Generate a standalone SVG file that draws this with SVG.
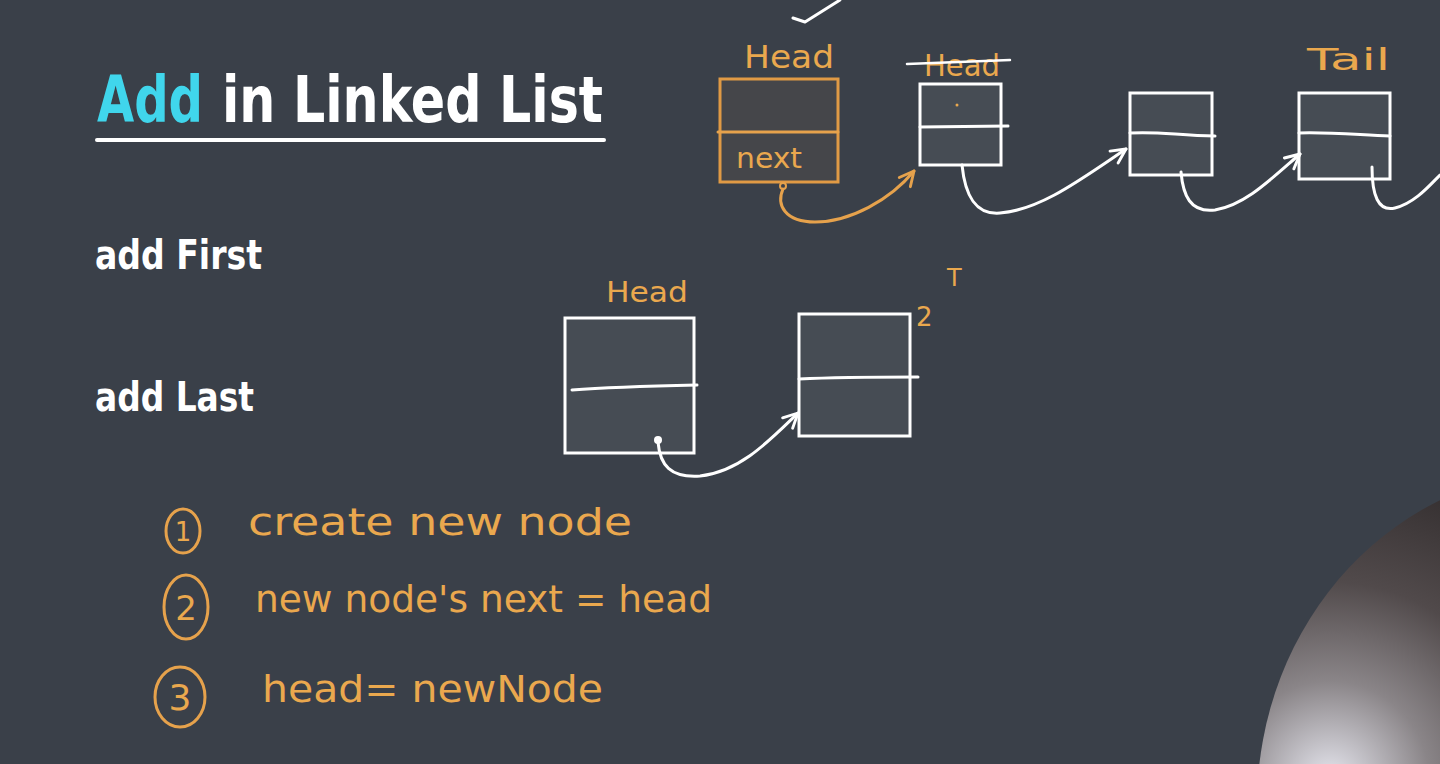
<svg xmlns="http://www.w3.org/2000/svg" width="1440" height="764" viewBox="0 0 1440 764">
<style>
.box{fill:#464c54;stroke:#ffffff;stroke-width:3}
.obox{fill:#45464a;stroke:#e09a45;stroke-width:3}
.wl{fill:none;stroke:#ffffff;stroke-width:3;stroke-linecap:round;stroke-linejoin:round}
.ol{fill:none;stroke:#e6a24c;stroke-width:3;stroke-linecap:round;stroke-linejoin:round}
.hand{font-family:"DejaVu Sans","Liberation Sans",sans-serif;fill:#eaa84e}
.head{font-family:"DejaVu Sans Condensed","DejaVu Sans",sans-serif;font-weight:bold;fill:#ffffff}
</style>
<defs>
<marker id="wa" viewBox="0 0 10 10" refX="9" refY="5" markerWidth="6" markerHeight="6" orient="auto" markerUnits="strokeWidth">
<path d="M1,1 L9,5 L1,9" fill="none" stroke="#ffffff" stroke-width="1.6" stroke-linecap="round" stroke-linejoin="round"/>
</marker>
<marker id="oa" viewBox="0 0 10 10" refX="9" refY="5" markerWidth="6" markerHeight="6" orient="auto" markerUnits="strokeWidth">
<path d="M1,1 L9,5 L1,9" fill="none" stroke="#e6a24c" stroke-width="1.6" stroke-linecap="round" stroke-linejoin="round"/>
</marker>
<radialGradient id="sph" cx="1330" cy="780" r="330" gradientUnits="userSpaceOnUse">
<stop offset="0" stop-color="#e6e6ee"/>
<stop offset="0.3" stop-color="#8a8588"/>
<stop offset="0.6" stop-color="#514a4b"/>
<stop offset="1" stop-color="#302b2c"/>
</radialGradient>
</defs>
<rect width="1440" height="764" fill="#3a4049"/>
<ellipse cx="1570" cy="805" rx="313" ry="335" fill="url(#sph)"/>

<g id="title">
<text x="97" y="122" class="head" font-size="64" fill="#40d6ec" style="fill:#40d6ec" textLength="106" lengthAdjust="spacingAndGlyphs">Add</text>
<text x="222" y="122" class="head" font-size="64" textLength="381" lengthAdjust="spacingAndGlyphs">in Linked List</text>
<line x1="97" y1="140" x2="604" y2="140" stroke="#ffffff" stroke-width="4" stroke-linecap="round"/>
</g>
<g id="add-first"><text x="95" y="269" class="head" font-size="40" textLength="167" lengthAdjust="spacingAndGlyphs">add First</text></g>
<g id="add-last"><text x="95" y="411" class="head" font-size="40" textLength="159" lengthAdjust="spacingAndGlyphs">add Last</text></g>

<g id="new-head-node">
<rect x="720" y="79" width="118" height="103" class="obox"/>
<line x1="718" y1="132" x2="838" y2="132" class="ol"/>
<text x="736" y="168" class="hand" font-size="28" textLength="66" lengthAdjust="spacingAndGlyphs">next</text>
<text x="744" y="68" class="hand" font-size="32" textLength="90" lengthAdjust="spacingAndGlyphs">Head</text>
<path d="M793,18 L805,22 L840,0" class="wl" stroke-width="2.5"/>
</g>
<g id="old-head-node">
<rect x="920" y="84" width="81" height="81" class="box"/>
<line x1="920" y1="127" x2="1008" y2="126" class="wl"/>
<circle cx="957" cy="105" r="1.5" fill="#eaa84e"/>
<text x="924" y="76" class="hand" font-size="30" textLength="76" lengthAdjust="spacingAndGlyphs">Head</text>
<line x1="907" y1="64" x2="1010" y2="60" stroke="#ffffff" stroke-width="2.5" stroke-linecap="round"/>
</g>
<g id="node-3">
<rect x="1130" y="93" width="82" height="82" class="box"/>
<path d="M1130,133 C1160,131 1180,136 1215,136" class="wl"/>
</g>
<g id="tail-node">
<rect x="1299" y="93" width="91" height="86" class="box"/>
<path d="M1299,133 C1330,132 1360,135 1390,136" class="wl"/>
<text x="1307" y="70" class="hand" font-size="30" textLength="83" lengthAdjust="spacingAndGlyphs">Tail</text>
</g>

<g id="head-node-b">
<rect x="565" y="318" width="129" height="135" class="box"/>
<path d="M572,390 C610,387 650,386 697,385" class="wl"/>
<text x="606" y="302" class="hand" font-size="28" textLength="82" lengthAdjust="spacingAndGlyphs">Head</text>
</g>
<g id="tail-node-b">
<rect x="799" y="314" width="111" height="122" class="box"/>
<path d="M799,379 C840,377 880,377 918,377" class="wl"/>
<text x="916" y="326" class="hand" font-size="26">2</text>
<text x="947" y="286" class="hand" font-size="24">T</text>
</g>

<g id="connectors">
<circle cx="783" cy="186" r="3" fill="none" stroke="#e6a24c" stroke-width="2"/>
<path d="M783,189 C776,205 785,222 815,222 C850,222 890,200 914,171" class="ol" marker-end="url(#oa)"/>
<path d="M962,165 C965,195 975,215 1000,213 C1040,210 1080,180 1126,149" class="wl" marker-end="url(#wa)"/>
<path d="M1181,172 C1183,195 1190,213 1215,210 C1245,205 1270,180 1300,154" class="wl" marker-end="url(#wa)"/>
<path d="M1372,167 C1372,195 1378,212 1395,208 C1415,203 1430,185 1440,175" class="wl"/>
<circle cx="658" cy="440" r="4" fill="#ffffff"/>
<path d="M658,442 C660,465 670,478 700,476 C740,472 770,440 798,413" class="wl" marker-end="url(#wa)"/>
</g>

<g id="step-1">
<ellipse cx="183" cy="531" rx="17" ry="22" class="ol" stroke-width="2.5"/>
<text x="183" y="541" class="hand" font-size="26" text-anchor="middle">1</text>
<text x="248" y="535" class="hand" font-size="38" textLength="384" lengthAdjust="spacingAndGlyphs">create new node</text>
</g>
<g id="step-2">
<ellipse cx="186" cy="607" rx="22" ry="32" class="ol" stroke-width="2.5"/>
<text x="186" y="620" class="hand" font-size="34" text-anchor="middle">2</text>
<text x="255" y="612" class="hand" font-size="38" textLength="457" lengthAdjust="spacingAndGlyphs">new node's next = head</text>
</g>
<g id="step-3">
<ellipse cx="180" cy="697" rx="25" ry="30" class="ol" stroke-width="2.5"/>
<text x="180" y="710" class="hand" font-size="36" text-anchor="middle">3</text>
<text x="262" y="702" class="hand" font-size="38" textLength="341" lengthAdjust="spacingAndGlyphs">head= newNode</text>
</g>
</svg>
